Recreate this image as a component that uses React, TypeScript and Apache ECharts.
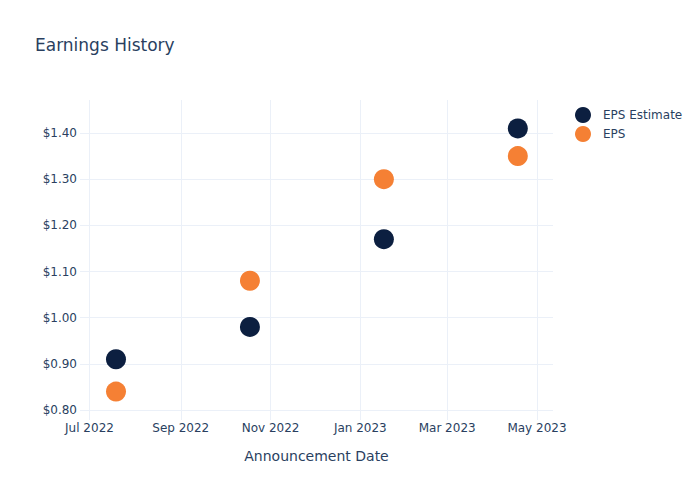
import React, { useEffect, useRef } from "react";
import * as echarts from "echarts";

const announcementDates = ["2022-07-19", "2022-10-18", "2023-01-17", "2023-04-18"];
const epsEstimate = [0.91, 0.98, 1.17, 1.41];
const epsActual = [0.84, 1.08, 1.3, 1.35];
const yTicks = [0.8, 0.9, 1.0, 1.1, 1.2, 1.3, 1.4];
const xTickDates = ["2022-07-01", "2022-09-01", "2022-11-01", "2023-01-01", "2023-03-01", "2023-05-01"];
const monthNames = ["Jan", "Feb", "Mar", "Apr", "May", "Jun", "Jul", "Aug", "Sep", "Oct", "Nov", "Dec"];

const toTs = (s: string) => {
  const [y, m, d] = s.split("-").map(Number);
  return Date.UTC(y, m - 1, d);
};

const DAY = 86400000;
const FONT = "DejaVu Sans";
const TXT = "#2a3f5f";
const GRID = "#EBF0F8";

export default function App() {
  const ref = useRef<HTMLDivElement>(null);
  useEffect(() => {
    if (!ref.current) return;
    const chart = echarts.init(ref.current, undefined, { renderer: "svg" });
    const xTicks = xTickDates.map(toTs);
    const xMin = toTs("2022-07-01") - 6.45 * DAY;
    const xMax = toTs("2022-07-01") + 314.9 * DAY;
    chart.setOption({
      animation: false,
      backgroundColor: "#fff",
      textStyle: { fontFamily: FONT, color: TXT },
      title: {
        text: "Earnings History",
        left: 30,
        top: 31,
        textStyle: { fontFamily: FONT, fontSize: 17, fontWeight: "normal", color: TXT },
      },
      legend: {
        orient: "vertical",
        left: 570,
        top: 102,
        itemWidth: 16,
        itemHeight: 16,
        itemGap: 3,
        icon: "circle",
        textStyle: { fontFamily: FONT, fontSize: 12, color: TXT, padding: [0, 0, 0, 7] },
        data: ["EPS Estimate", "EPS"],
      },
      grid: { left: 80, top: 100, width: 473, height: 320, containLabel: false },
      xAxis: {
        type: "value",
        min: xMin,
        max: xMax,
        name: "Announcement Date",
        nameLocation: "middle",
        nameGap: 29,
        nameTextStyle: { fontFamily: FONT, fontSize: 14, color: TXT },
        axisLine: { show: false },
        axisTick: { show: false, customValues: xTicks },
        axisLabel: {
          customValues: xTicks,
          margin: 2,
          fontFamily: FONT,
          fontSize: 12,
          color: TXT,
          hideOverlap: false,
          formatter: (v: number) => {
            const d = new Date(v);
            return monthNames[d.getUTCMonth()] + " " + d.getUTCFullYear();
          },
        },
        splitLine: { show: true, lineStyle: { color: GRID, width: 1 } },
      },
      yAxis: {
        type: "value",
        min: 0.7784,
        max: 1.4715,
        axisLine: { show: false },
        axisTick: { show: false, customValues: yTicks },
        axisLabel: {
          customValues: yTicks,
          margin: 3,
          fontFamily: FONT,
          fontSize: 12,
          color: TXT,
          formatter: (v: number) => "$" + v.toFixed(2),
        },
        splitLine: { show: true, lineStyle: { color: GRID, width: 1 } },
      },
      series: [
        {
          name: "EPS Estimate",
          type: "scatter",
          symbol: "circle",
          symbolSize: 20,
          itemStyle: { color: "#0c1f40", opacity: 1 },
          data: announcementDates.map((d, i) => [toTs(d), epsEstimate[i]]),
          z: 3,
        },
        {
          name: "EPS",
          type: "scatter",
          symbol: "circle",
          symbolSize: 20,
          itemStyle: { color: "#f58034", opacity: 1 },
          data: announcementDates.map((d, i) => [toTs(d), epsActual[i]]),
          z: 4,
        },
      ],
    });
    return () => chart.dispose();
  }, []);
  return <div ref={ref} style={{ width: 700, height: 500, margin: -8 }} />;
}
